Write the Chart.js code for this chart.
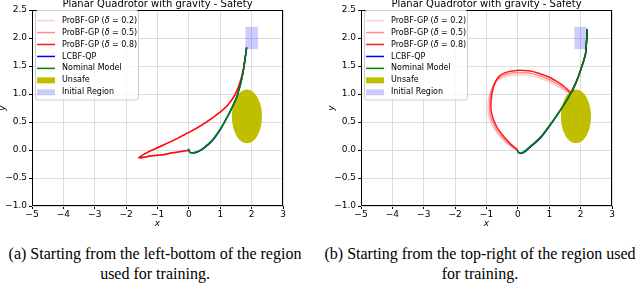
<!DOCTYPE html>
<html><head><meta charset="utf-8">
<script src="https://cdn.jsdelivr.net/npm/chart.js@4.4.0/dist/chart.umd.min.js"></script>
<style>
html,body{margin:0;padding:0;background:#fff;width:640px;height:285px;overflow:hidden;position:relative;}
.plot{position:absolute;top:0;width:320px;height:240px;}
#pa{left:-9px;} #pb{left:320px;}
.cap{position:absolute;top:243.5px;font-family:'Liberation Serif','Times New Roman',serif;font-size:16px;line-height:20px;text-align:center;white-space:nowrap;color:#000;}
#capa{left:0;width:310px;} #capb{left:320px;width:320px;}
</style></head>
<body>
<div class="plot" id="pa"><canvas id="ca" width="320" height="240"></canvas></div>
<div class="plot" id="pb"><canvas id="cb" width="320" height="240"></canvas></div>
<div class="cap" id="capa">(a) Starting from the left-bottom of the region<br>used for training.</div>
<div class="cap" id="capb">(b) Starting from the top-right of the region used<br>for training.</div>
<script>
// ---- data ----
const chartTitle = 'Planar Quadrotor with gravity - Safety';
const xTickValues = [-5,-4,-3,-2,-1,0,1,2,3];
const xTickLabels = ['\u22125','\u22124','\u22123','\u22122','\u22121','0','1','2','3'];
const yTickValues = [-1,-0.5,0,0.5,1,1.5,2,2.5];
const yTickLabels = ['\u22121.0','\u22120.5','0.0','0.5','1.0','1.5','2.0','2.5'];
const seriesLabels = ['ProBF-GP (\u03b4 = 0.2)','ProBF-GP (\u03b4 = 0.5)','ProBF-GP (\u03b4 = 0.8)','LCBF-QP','Nominal Model'];
const regionLabels = ['Unsafe','Initial Region'];
const unsafeCenter = [1.85, 0.6];
const unsafeRadius = 0.48;
const initialRegionX = [1.8, 2.2];
const initialRegionY = [1.8, 2.2];

// (a) left-bottom start: the three ProBF-GP curves overlap
const leftProbf02 = [[1.84,1.83],[1.82,1.74],[1.79,1.63],[1.76,1.50],[1.71,1.37],[1.65,1.24],[1.57,1.11],[1.47,0.99],[1.36,0.89],[1.22,0.79],[1.07,0.71],[0.91,0.64],[0.70,0.55],[0.48,0.47],[0.22,0.38],[-0.05,0.30],[-0.32,0.22],[-0.58,0.15],[-0.85,0.08],[-1.12,0.01],[-1.38,-0.06],[-1.60,-0.14],[-1.35,-0.12],[-1.10,-0.10],[-0.90,-0.09],[-0.60,-0.06],[-0.30,-0.03],[-0.05,-0.01],[0.00,0.00]];
const leftProbf05 = [[1.84,1.83],[1.82,1.74],[1.79,1.63],[1.76,1.50],[1.71,1.37],[1.65,1.24],[1.57,1.11],[1.47,0.99],[1.36,0.89],[1.22,0.79],[1.07,0.71],[0.91,0.64],[0.70,0.55],[0.48,0.47],[0.22,0.38],[-0.05,0.30],[-0.32,0.22],[-0.58,0.15],[-0.85,0.08],[-1.12,0.01],[-1.38,-0.06],[-1.60,-0.14],[-1.35,-0.12],[-1.10,-0.10],[-0.90,-0.09],[-0.60,-0.06],[-0.30,-0.03],[-0.05,-0.01],[0.00,0.00]];
const leftProbf08 = [[1.84,1.83],[1.82,1.74],[1.79,1.63],[1.76,1.50],[1.71,1.37],[1.65,1.24],[1.57,1.11],[1.47,0.99],[1.36,0.89],[1.22,0.79],[1.07,0.71],[0.91,0.64],[0.70,0.55],[0.48,0.47],[0.22,0.38],[-0.05,0.30],[-0.32,0.22],[-0.58,0.15],[-0.85,0.08],[-1.12,0.01],[-1.38,-0.06],[-1.60,-0.14],[-1.35,-0.12],[-1.10,-0.10],[-0.90,-0.09],[-0.60,-0.06],[-0.30,-0.03],[-0.05,-0.01],[0.00,0.00]];
const leftLcbf = [[1.84,1.83],[1.82,1.74],[1.79,1.63],[1.76,1.50],[1.72,1.37],[1.67,1.23],[1.61,1.10],[1.54,0.97],[1.46,0.86],[1.38,0.76],[1.28,0.645],[1.18,0.54],[1.05,0.41],[0.91,0.285],[0.75,0.165],[0.60,0.085],[0.45,0.02],[0.30,-0.03],[0.20,-0.05],[0.10,-0.055],[0.04,-0.045],[0.00,-0.01],[-0.01,0.02]];
const leftNominal = [[1.84,1.83],[1.82,1.74],[1.79,1.63],[1.76,1.50],[1.72,1.37],[1.67,1.23],[1.61,1.10],[1.54,0.97],[1.46,0.86],[1.38,0.76],[1.28,0.65],[1.18,0.55],[1.05,0.42],[0.91,0.30],[0.75,0.18],[0.60,0.10],[0.45,0.03],[0.30,-0.02],[0.20,-0.04],[0.10,-0.05],[0.04,-0.04],[0.00,-0.01],[-0.01,0.02]];

// (b) top-right start
const rightProbf02 = [[2.21,2.155],[2.20,2.02],[2.18,1.88],[2.16,1.73],[2.09,1.58],[2.00,1.43],[1.92,1.30],[1.84,1.19],[1.78,1.11],[1.71,1.03],[1.64,1.02],[1.55,1.04],[1.45,1.07],[1.36,1.10],[1.20,1.16],[1.04,1.21],[0.82,1.26],[0.61,1.30],[0.40,1.33],[0.20,1.34],[-0.05,1.34],[-0.40,1.31],[-0.70,1.21],[-0.88,1.03],[-0.95,0.82],[-0.93,0.61],[-0.76,0.38],[-0.51,0.20],[-0.26,0.08],[-0.09,0.02],[0.00,0.00]];
const rightProbf05 = [[2.21,2.155],[2.20,2.02],[2.18,1.88],[2.16,1.73],[2.09,1.58],[2.00,1.43],[1.92,1.30],[1.84,1.19],[1.78,1.11],[1.72,1.04],[1.66,1.03],[1.57,1.06],[1.46,1.10],[1.36,1.14],[1.20,1.20],[1.04,1.25],[0.82,1.30],[0.61,1.34],[0.40,1.37],[0.20,1.38],[-0.05,1.38],[-0.38,1.35],[-0.66,1.26],[-0.83,1.08],[-0.90,0.86],[-0.88,0.63],[-0.72,0.40],[-0.48,0.22],[-0.24,0.09],[-0.08,0.02],[0.00,0.00]];
const rightProbf08 = [[2.21,2.155],[2.20,2.02],[2.18,1.88],[2.16,1.73],[2.09,1.58],[2.00,1.43],[1.92,1.30],[1.84,1.19],[1.78,1.11],[1.73,1.04],[1.68,1.03],[1.60,1.07],[1.48,1.13],[1.36,1.18],[1.20,1.24],[1.04,1.29],[0.82,1.34],[0.61,1.38],[0.40,1.41],[0.20,1.42],[-0.05,1.42],[-0.35,1.39],[-0.61,1.31],[-0.77,1.14],[-0.85,0.90],[-0.84,0.66],[-0.68,0.42],[-0.45,0.24],[-0.22,0.10],[-0.07,0.03],[0.00,0.00]];
const rightLcbf = [[2.21,2.155],[2.20,2.02],[2.18,1.88],[2.16,1.73],[2.09,1.58],[2.00,1.43],[1.92,1.30],[1.84,1.19],[1.76,1.10],[1.68,1.01],[1.57,0.90],[1.46,0.80],[1.30,0.665],[1.14,0.53],[0.93,0.365],[0.72,0.215],[0.55,0.125],[0.40,0.055],[0.26,-0.015],[0.13,-0.06],[0.05,-0.055],[0.00,-0.03],[-0.02,0.00]];
const rightNominal = [[2.21,2.155],[2.20,2.02],[2.18,1.88],[2.16,1.73],[2.09,1.58],[2.00,1.43],[1.92,1.30],[1.84,1.19],[1.76,1.10],[1.68,1.01],[1.57,0.90],[1.46,0.80],[1.30,0.67],[1.14,0.54],[0.93,0.38],[0.72,0.23],[0.55,0.14],[0.40,0.07],[0.26,0.00],[0.13,-0.05],[0.05,-0.05],[0.00,-0.03],[-0.02,0.00]];

// ---- styles ----
const lineColors = ['rgba(255,0,0,0.2)','rgba(255,0,0,0.45)','rgba(255,0,0,0.9)','#0000ff','#008000'];
const drawOrder = [4,3,2,1,0];
const unsafeColor = '#bfbf00';
const initialColor = 'rgba(0,0,255,0.2)';
const FONT = '"DejaVu Sans", sans-serif';

const toXY = arr => arr.map(p => ({x: p[0], y: p[1]}));

const shapesPlugin = {
  id: 'shapes',
  beforeDatasetsDraw(chart) {
    const {ctx, chartArea: a, scales: {x, y}} = chart;
    ctx.save();
    ctx.beginPath(); ctx.rect(a.left, a.top, a.width, a.height); ctx.clip();
    const cx = x.getPixelForValue(unsafeCenter[0]), cy = y.getPixelForValue(unsafeCenter[1]);
    const rx = Math.abs(x.getPixelForValue(unsafeCenter[0] + unsafeRadius) - cx);
    const ry = Math.abs(y.getPixelForValue(unsafeCenter[1] + unsafeRadius) - cy);
    ctx.fillStyle = unsafeColor;
    ctx.beginPath(); ctx.ellipse(cx, cy, rx, ry, 0, 0, Math.PI * 2); ctx.fill();
    const x0 = x.getPixelForValue(initialRegionX[0]), x1 = x.getPixelForValue(initialRegionX[1]);
    const y0 = y.getPixelForValue(initialRegionY[0]), y1 = y.getPixelForValue(initialRegionY[1]);
    ctx.fillStyle = initialColor;
    ctx.fillRect(Math.min(x0, x1), Math.min(y0, y1), Math.abs(x1 - x0), Math.abs(y1 - y0));
    ctx.restore();
  }
};

function drawMixed(ctx, text, x, y) {
  const parts = text.split('\u03b4');
  let cx = x;
  parts.forEach((p, i) => {
    if (i > 0) {
      ctx.font = 'italic 8px ' + FONT;
      ctx.fillText('\u03b4', cx, y);
      cx += ctx.measureText('\u03b4').width;
    }
    ctx.font = '8px ' + FONT;
    ctx.fillText(p, cx, y);
    cx += ctx.measureText(p).width;
  });
}

const frameLegendPlugin = {
  id: 'frameLegend',
  afterDatasetsDraw(chart) {
    const {ctx, chartArea: a} = chart;
    ctx.save();
    // axes frame
    ctx.strokeStyle = '#000'; ctx.lineWidth = 1;
    ctx.strokeRect(Math.round(a.left) + 0.5, Math.round(a.top) + 0.5, Math.round(a.width) - 1, Math.round(a.height) - 1);
    // legend frame
    const fx = a.left + 3.5, fy = a.top + 0.5, fw = 103, fh = 89.5, r = 2.5;
    ctx.beginPath();
    ctx.moveTo(fx + r, fy); ctx.lineTo(fx + fw - r, fy); ctx.arcTo(fx + fw, fy, fx + fw, fy + r, r);
    ctx.lineTo(fx + fw, fy + fh - r); ctx.arcTo(fx + fw, fy + fh, fx + fw - r, fy + fh, r);
    ctx.lineTo(fx + r, fy + fh); ctx.arcTo(fx, fy + fh, fx, fy + fh - r, r);
    ctx.lineTo(fx, fy + r); ctx.arcTo(fx, fy, fx + r, fy, r); ctx.closePath();
    ctx.fillStyle = 'rgba(255,255,255,0.8)'; ctx.fill();
    ctx.strokeStyle = '#cccccc'; ctx.stroke();
    const hx0 = a.left + 5, hx1 = a.left + 23, tx = a.left + 30;
    ctx.textBaseline = 'middle'; ctx.textAlign = 'left'; ctx.fillStyle = '#000';
    const ds = chart.data.datasets;
    ds.forEach((d, i) => {
      const cy = a.top + 10.6 + i * 11.95;
      ctx.strokeStyle = d.borderColor; ctx.lineWidth = 1.5;
      ctx.beginPath(); ctx.moveTo(hx0, cy); ctx.lineTo(hx1, cy); ctx.stroke();
      ctx.fillStyle = '#000';
      drawMixed(ctx, d.label, tx, cy);
    });
    [unsafeColor, initialColor].forEach((c, j) => {
      const cy = a.top + 10.6 + (ds.length + j) * 11.95;
      ctx.fillStyle = c;
      ctx.fillRect(hx0, cy - 3, hx1 - hx0, 6);
      ctx.fillStyle = '#000';
      drawMixed(ctx, regionLabels[j], tx, cy);
    });
    ctx.restore();
  }
};

function makeChart(id, series) {
  const datasets = series.map((s, i) => ({
    label: seriesLabels[i],
    data: toXY(s),
    borderColor: lineColors[i],
    backgroundColor: lineColors[i],
    borderWidth: 1.5,
    showLine: true,
    pointRadius: 0,
    tension: 0.3,
    fill: false,
    order: drawOrder[i]
  }));
  return new Chart(document.getElementById(id), {
    type: 'scatter',
    data: {datasets},
    options: {
      responsive: false, animation: false, devicePixelRatio: 1, events: [],
      layout: {padding: {left: 0, right: 28, top: 0, bottom: 0}},
      plugins: {
        legend: {display: false}, tooltip: {enabled: false},
        title: {display: true, text: chartTitle, fullSize: false, color: '#000',
          font: {family: FONT, size: 10, weight: 'normal', lineHeight: '8px'}, padding: {top: 0, bottom: 2}}
      },
      scales: {
        x: {
          type: 'linear', min: -5, max: 3,
          afterBuildTicks: s => { s.ticks = xTickValues.map(v => ({value: v})); },
          afterFit: s => { s.height = 34; },
          ticks: {callback: v => xTickLabels[xTickValues.indexOf(v)], color: '#000', font: {family: FONT, size: 9}, padding: 0, maxRotation: 0, autoSkip: false},
          grid: {color: '#dcdcdc', lineWidth: 1, tickColor: '#000', tickLength: 3},
          border: {display: false},
          title: {display: true, text: 'x', color: '#000', font: {family: FONT, size: 9, style: 'italic'}, padding: {top: 0, bottom: 11}}
        },
        y: {
          type: 'linear', min: -1, max: 2.5,
          afterBuildTicks: s => { s.ticks = yTickValues.map(v => ({value: v})); },
          afterFit: s => { s.width = 41; },
          ticks: {callback: v => yTickLabels[yTickValues.indexOf(v)], color: '#000', font: {family: FONT, size: 9}, padding: 2, autoSkip: false},
          grid: {color: '#dcdcdc', lineWidth: 1, tickColor: '#000', tickLength: 3},
          border: {display: false},
          title: {display: true, text: 'y', color: '#000', font: {family: FONT, size: 9, style: 'italic'}, padding: {top: 6.6, bottom: 0}}
        }
      }
    },
    plugins: [shapesPlugin, frameLegendPlugin]
  });
}

makeChart('ca', [leftProbf02, leftProbf05, leftProbf08, leftLcbf, leftNominal]);
makeChart('cb', [rightProbf02, rightProbf05, rightProbf08, rightLcbf, rightNominal]);
</script>
</body></html>
